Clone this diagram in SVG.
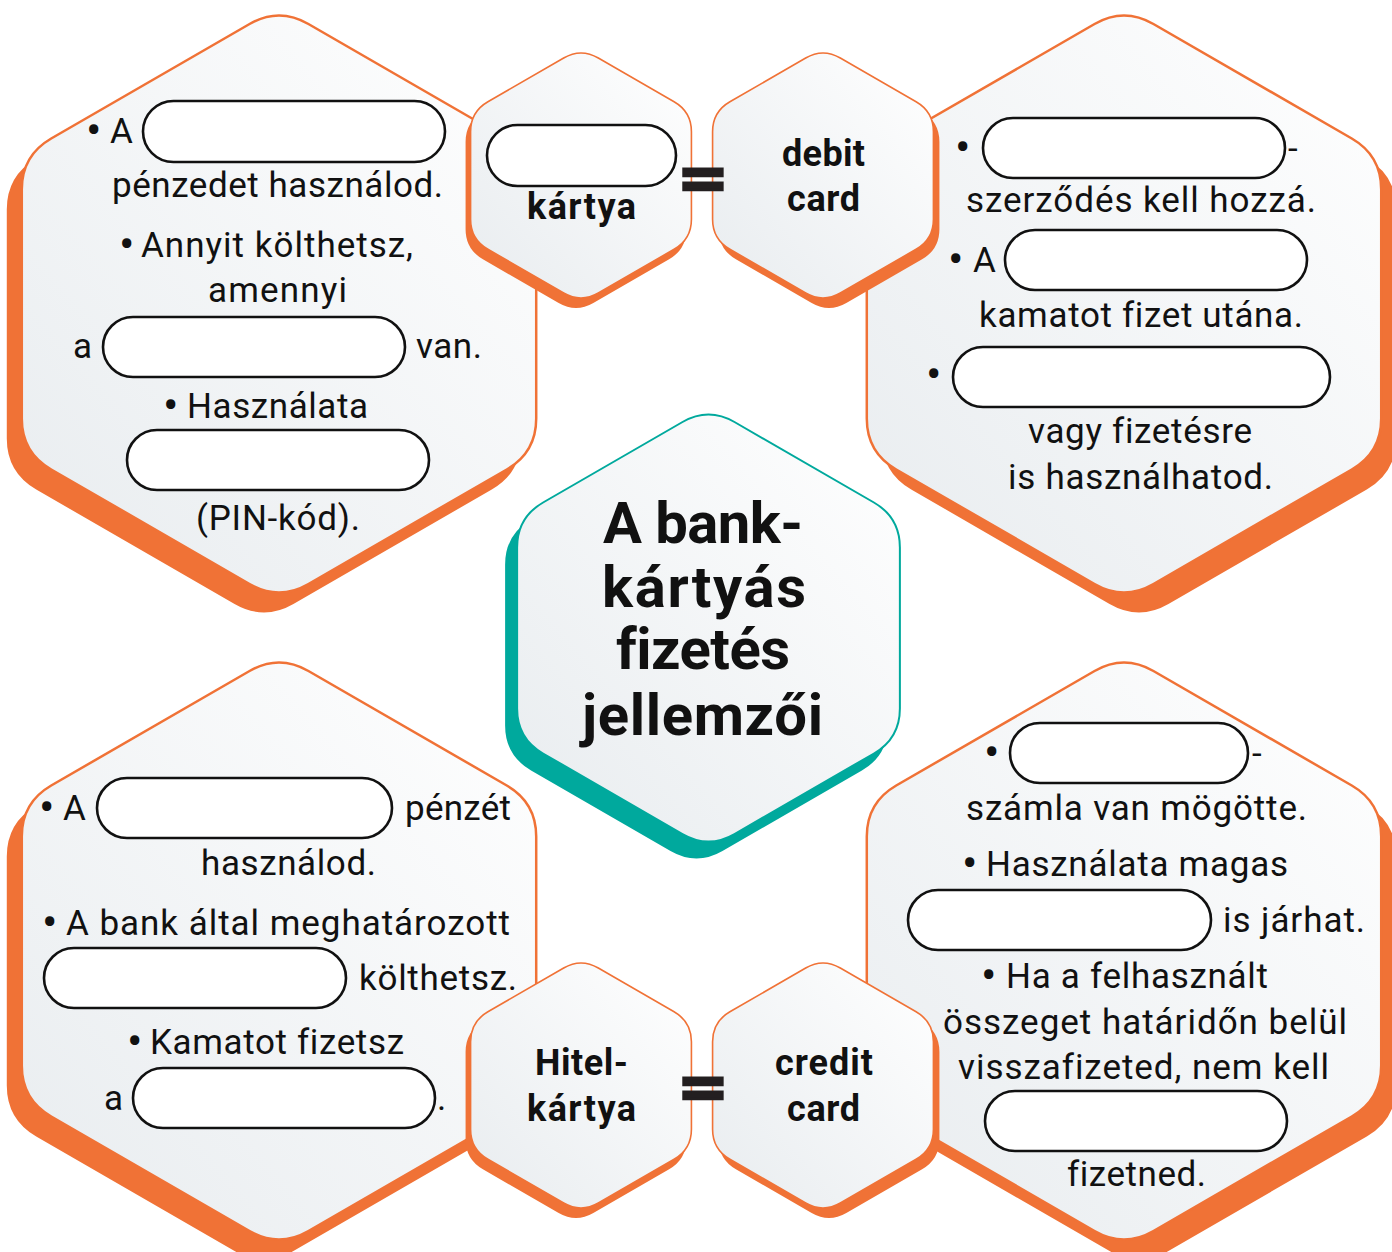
<svg xmlns="http://www.w3.org/2000/svg" width="1392" height="1252" viewBox="0 0 1392 1252">
<defs>
<linearGradient id="fillG" x1="1" y1="0" x2="0" y2="1">
<stop offset="0" stop-color="#ffffff"/>
<stop offset="1" stop-color="#e8ecef"/>
</linearGradient>
<path id="hexL" d="M29.44,-280 L227.77,-165.5 Q257.21,-148.5 257.21,-114.5 L257.21,114.5 Q257.21,148.5 227.77,165.5 L29.44,280 Q0,297 -29.44,280 L-227.77,165.5 Q-257.21,148.5 -257.21,114.5 L-257.21,-114.5 Q-257.21,-148.5 -227.77,-165.5 L-29.44,-280 Q0,-297 29.44,-280 Z"/>
<path id="hexC" d="M25.98,-206 L165.41,-125.5 Q191.39,-110.5 191.39,-80.5 L191.39,80.5 Q191.39,110.5 165.41,125.5 L25.98,206 Q0,221 -25.98,206 L-165.41,125.5 Q-191.39,110.5 -191.39,80.5 L-191.39,-80.5 Q-191.39,-110.5 -165.41,-125.5 L-25.98,-206 Q0,-221 25.98,-206 Z"/>
<path id="hexS" d="M17.32,-117.5 L93.1,-73.75 Q110.42,-63.75 110.42,-43.75 L110.42,43.75 Q110.42,63.75 93.1,73.75 L17.32,117.5 Q0,127.5 -17.32,117.5 L-93.1,73.75 Q-110.42,63.75 -110.42,43.75 L-110.42,-43.75 Q-110.42,-63.75 -93.1,-73.75 L-17.32,-117.5 Q0,-127.5 17.32,-117.5 Z"/>
</defs>
<style>
.shO{fill:#f07236}
.shT{fill:#00a99d}
.bodyO{fill:url(#fillG);stroke:#f07236;stroke-width:2.5}
.bodyOs{fill:url(#fillG);stroke:#f07236;stroke-width:1.6}
.bodyT{fill:url(#fillG);stroke:#00a99d;stroke-width:2}
.pill{fill:#ffffff;stroke:#111111;stroke-width:2.6}
.t{font-family:Roboto,"Liberation Sans",sans-serif;font-size:35px;fill:#111111;font-variant-ligatures:none}
.bul{font-family:Roboto,"Liberation Sans",sans-serif;font-size:46px;fill:#111111}
.b{font-family:Roboto,"Liberation Sans",sans-serif;font-size:36px;font-weight:bold;fill:#111111;font-variant-ligatures:none}
.title{font-family:Roboto,"Liberation Sans",sans-serif;font-size:58px;font-weight:bold;fill:#111111;font-variant-ligatures:none}
.eq{font-family:"DejaVu Sans",sans-serif;font-size:62px;font-weight:bold;fill:#231f20;stroke:#231f20;stroke-width:2.6}
</style>
<rect width="1392" height="1252" fill="#ffffff"/>

<g id="node-debit-features">
<use href="#hexL" class="shO" transform="translate(264,324)"/>
<use href="#hexL" class="bodyO" transform="translate(279,304)"/>
<text class="bul" x="86" y="146">•</text>
<text class="t" x="110" y="143">A</text>
<rect class="pill" x="143" y="101" width="302" height="61" rx="30.5"/>
<text class="t" x="112" y="197" textLength="331">pénzedet használod.</text>
<text class="bul" x="119" y="260">•</text>
<text class="t" x="141" y="257" textLength="272">Annyit költhetsz,</text>
<text class="t" x="208" y="302" textLength="139">amennyi</text>
<text class="t" x="73" y="358">a</text>
<rect class="pill" x="103" y="317" width="302" height="60" rx="30"/>
<text class="t" x="416" y="358" textLength="66">van.</text>
<text class="bul" x="163" y="421">•</text>
<text class="t" x="187" y="418" textLength="181">Használata</text>
<rect class="pill" x="127" y="430" width="302" height="60" rx="30"/>
<text class="t" x="196" y="530" textLength="164">(PIN-kód).</text>
</g>

<g id="node-debit-characteristics">
<use href="#hexL" class="shO" transform="translate(1139,324)"/>
<use href="#hexL" class="bodyO" transform="translate(1124,304)"/>
<text class="bul" x="955" y="163">•</text>
<rect class="pill" x="983" y="118" width="302" height="60" rx="30"/>
<text class="t" x="1288" y="160">-</text>
<text class="t" x="966" y="212" textLength="350">szerződés kell hozzá.</text>
<text class="bul" x="948" y="275">•</text>
<text class="t" x="973" y="272">A</text>
<rect class="pill" x="1005" y="230" width="302" height="60" rx="30"/>
<text class="t" x="979" y="327" textLength="324">kamatot fizet utána.</text>
<text class="bul" x="926" y="390">•</text>
<rect class="pill" x="953" y="347" width="377" height="60" rx="30"/>
<text class="t" x="1028" y="443" textLength="224">vagy fizetésre</text>
<text class="t" x="1008" y="489" textLength="265">is használhatod.</text>
</g>

<g id="node-credit-features">
<use href="#hexL" class="shO" transform="translate(264,971)"/>
<use href="#hexL" class="bodyO" transform="translate(279,951)"/>
<text class="bul" x="39" y="823">•</text>
<text class="t" x="63" y="820">A</text>
<rect class="pill" x="97" y="778" width="295" height="60" rx="30"/>
<text class="t" x="405" y="820" textLength="106">pénzét</text>
<text class="t" x="201" y="875" textLength="175">használod.</text>
<text class="bul" x="42" y="938">•</text>
<text class="t" x="66" y="935" textLength="444">A bank által meghatározott</text>
<rect class="pill" x="44" y="948" width="302" height="60" rx="30"/>
<text class="t" x="359" y="990" textLength="158">költhetsz.</text>
<text class="bul" x="127" y="1057">•</text>
<text class="t" x="150" y="1054" textLength="254">Kamatot fizetsz</text>
<text class="t" x="104" y="1110">a</text>
<rect class="pill" x="133" y="1068" width="302" height="60" rx="30"/>
<text class="t" x="437" y="1110">.</text>
</g>

<g id="node-credit-characteristics">
<use href="#hexL" class="shO" transform="translate(1139,971)"/>
<use href="#hexL" class="bodyO" transform="translate(1124,951)"/>
<text class="bul" x="984" y="768">•</text>
<rect class="pill" x="1010" y="723" width="238" height="60" rx="30"/>
<text class="t" x="1252" y="765">-</text>
<text class="t" x="966" y="820" textLength="341">számla van mögötte.</text>
<text class="bul" x="962" y="879">•</text>
<text class="t" x="986" y="876" textLength="302">Használata magas</text>
<rect class="pill" x="908" y="890" width="303" height="60" rx="30"/>
<text class="t" x="1223" y="932" textLength="142">is járhat.</text>
<text class="bul" x="981" y="991">•</text>
<text class="t" x="1006" y="988" textLength="262">Ha a felhasznált</text>
<text class="t" x="943" y="1034" textLength="404">összeget határidőn belül</text>
<text class="t" x="958" y="1079" textLength="371">visszafizeted, nem kell</text>
<rect class="pill" x="985" y="1091" width="302" height="60" rx="30"/>
<text class="t" x="1067" y="1186" textLength="139">fizetned.</text>
</g>

<g id="node-center">
<use href="#hexC" class="shT" transform="translate(696.5,645)"/>
<use href="#hexC" class="bodyT" transform="translate(708.5,628)"/>
<text class="title" x="603" y="543" textLength="200">A bank-</text>
<text class="title" x="602" y="607" textLength="204">kártyás</text>
<text class="title" x="616" y="669" textLength="174">fizetés</text>
<text class="title" x="582" y="735" textLength="241">jellemzői</text>
</g>

<g id="node-kartya">
<use href="#hexS" class="shO" transform="translate(576,185.5)"/>
<use href="#hexS" class="bodyOs" transform="translate(581,175.5)"/>
<rect class="pill" x="487" y="125" width="189" height="61" rx="30.5"/>
<text class="b" x="527" y="219" textLength="109">kártya</text>
</g>

<g id="node-debit-card">
<use href="#hexS" class="shO" transform="translate(829,185.5)"/>
<use href="#hexS" class="bodyOs" transform="translate(823,175.5)"/>
<text class="b" x="782" y="166" textLength="83">debit</text>
<text class="b" x="787" y="211" textLength="73">card</text>
</g>

<g id="node-hitelkartya">
<use href="#hexS" class="shO" transform="translate(576,1095.5)"/>
<use href="#hexS" class="bodyOs" transform="translate(581,1085.5)"/>
<text class="b" x="535" y="1075" textLength="93">Hitel-</text>
<text class="b" x="527" y="1121" textLength="109">kártya</text>
</g>

<g id="node-credit-card">
<use href="#hexS" class="shO" transform="translate(829,1095.5)"/>
<use href="#hexS" class="bodyOs" transform="translate(823,1085.5)"/>
<text class="b" x="775" y="1075" textLength="98">credit</text>
<text class="b" x="787" y="1121" textLength="73">card</text>
</g>

<g id="connectors">
<text class="eq" x="703" y="199" text-anchor="middle">=</text>
<text class="eq" x="703" y="1108" text-anchor="middle">=</text>
</g>
</svg>
